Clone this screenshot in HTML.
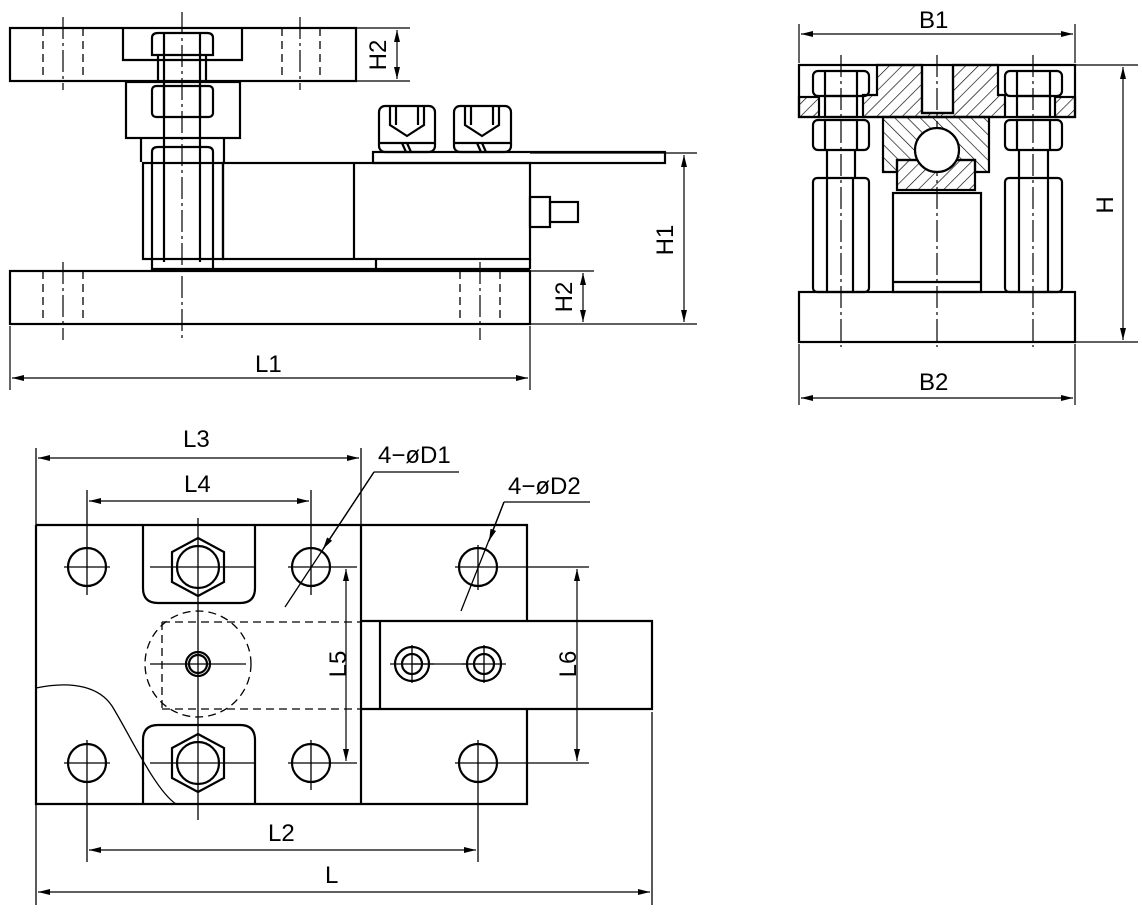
<!DOCTYPE html>
<html><head><meta charset="utf-8"><style>
html,body{margin:0;padding:0;background:#fff}
svg{display:block}
text{font-family:"Liberation Sans",sans-serif;font-size:24px;fill:#000}
</style></head><body>
<svg width="1142" height="914" viewBox="0 0 1142 914" xmlns="http://www.w3.org/2000/svg">
<defs>
<marker id="a" viewBox="0 0 12 6" refX="12" refY="3" markerWidth="12" markerHeight="6" orient="auto-start-reverse" markerUnits="userSpaceOnUse"><path d="M0,0 L12,3 L0,6 z" fill="#000"/></marker>
<pattern id="h" width="9" height="9" patternUnits="userSpaceOnUse" patternTransform="rotate(45)"><line x1="0" y1="0" x2="0" y2="9" stroke="#000" stroke-width="1.3"/></pattern>
<pattern id="h2" width="9" height="9" patternUnits="userSpaceOnUse" patternTransform="rotate(-45)"><line x1="0" y1="0" x2="0" y2="9" stroke="#000" stroke-width="1.3"/></pattern>
</defs>
<g fill="none" stroke="#000" stroke-width="2.2">
<rect x="10" y="28" width="346" height="53"/>
<path d="M123,28 V60 H242 V28"/>
<path d="M152,38 Q152,33 158,33 H207 Q213,33 213,38 V55 H152 z"/>
<path d="M164,33 V55 M200,33 V55"/>
<path d="M158,55 V82 M206,55 V82 M164,55 V262 M200,55 V262"/>
<rect x="126" y="82" width="114" height="56"/>
<rect x="152" y="86" width="61" height="31" rx="4"/>
<path d="M164,86 V117 M200,86 V117"/>
<path d="M141,138 V162 M224,138 V162"/>
<rect x="143" y="163" width="80" height="96"/>
<path d="M152,152 Q152,147 158,147 H207 Q213,147 213,152 V269 H152 z"/>
<rect x="223" y="163" width="307" height="96"/>
<path d="M354,163 V259"/>
<path d="M213,269 H530 M530,259 V269 M376,259 V269"/>
<rect x="373" y="152" width="292" height="11"/>
<rect x="379" y="106" width="56" height="46" rx="6"/>
<path d="M379,143 H435 M390,106 V125 L407,136 L424,125 V106 M396,106 V125 M418,106 V125 M402,143 L406,152 M407,143 L411,152"/>
<rect x="454" y="106" width="57" height="46" rx="6"/>
<path d="M454,143 H511 M465,106 V125 L482,136 L499,125 V106 M471,106 V125 M493,106 V125 M477,143 L481,152 M482,143 L486,152"/>
<rect x="530" y="197" width="20" height="30"/>
<rect x="550" y="202" width="28" height="20"/>
<rect x="10" y="271" width="520" height="53"/>
</g>
<g fill="none" stroke="#000" stroke-width="1.3" stroke-dasharray="8,5">
<path d="M43,28 V81 M83,28 V81 M282,28 V81 M320,28 V81 M43,271 V324 M83,271 V324 M460,271 V324 M500,271 V324"/>
<path d="M162,622 H361 M162,709 H361 M162,622 V709"/>
<circle cx="198" cy="664" r="53"/>
</g>
<g fill="none" stroke="#000" stroke-width="1.2" stroke-dasharray="22,4,3,4">
<path d="M63,17 V90 M300,17 V90 M182,12 V338 M63,262 V340 M480,262 V340"/>
<path d="M841,55 V347 M937,55 V347 M1033,55 V347"/>
</g>
<g fill="none" stroke="#000" stroke-width="1.2">
<path d="M356,28 H410 M356,81 H410 M530,153 H697 M530,324 H697 M530,271 H594"/>
<path d="M10,326 V390 M530,326 V390"/>
</g>
<g stroke="#000" stroke-width="1.2" marker-start="url(#a)" marker-end="url(#a)">
<line x1="397" y1="30" x2="397" y2="79"/>
<line x1="583" y1="273" x2="583" y2="322"/>
<line x1="684" y1="155" x2="684" y2="322"/>
<line x1="12" y1="378" x2="528" y2="378"/>
<line x1="801" y1="34" x2="1073" y2="34"/>
<line x1="801" y1="398" x2="1073" y2="398"/>
<line x1="1123" y1="67" x2="1123" y2="340"/>
<line x1="38" y1="458" x2="359" y2="458"/>
<line x1="89" y1="501" x2="309" y2="501"/>
<line x1="346" y1="569" x2="346" y2="761"/>
<line x1="577" y1="569" x2="577" y2="761"/>
<line x1="89" y1="850" x2="476" y2="850"/>
<line x1="38" y1="892" x2="650" y2="892"/>
</g>
<text x="255" y="372">L1</text>
<text transform="translate(386,55) rotate(-90)" text-anchor="middle">H2</text>
<text transform="translate(572,297) rotate(-90)" text-anchor="middle">H2</text>
<text transform="translate(673,240) rotate(-90)" text-anchor="middle">H1</text>

<g stroke="#000" stroke-width="2.2">
<path d="M877,65 H922 V113 H953 V65 H998 V95 H1005 V117 H863 V95 H877 z" fill="url(#h)"/>
<rect x="799" y="97" width="20" height="20" fill="url(#h)"/>
<rect x="1055" y="97" width="20" height="20" fill="url(#h)"/>
<path d="M883,117 H989 V172 H975 V160 H897 V172 H883 z" fill="url(#h2)"/>
<rect x="897" y="160" width="78" height="30" fill="url(#h)"/>
<circle cx="937" cy="150" r="22" fill="#fff"/>
</g>
<g fill="none" stroke="#000" stroke-width="2.2">
<rect x="799" y="65" width="276" height="52"/>
<path d="M922,65 V113 H953 V65"/>
<rect x="813" y="71" width="56" height="25" rx="5"/>
<path d="M825,71 V96 M857,71 V96"/>
<rect x="825" y="96" width="32" height="21"/>
<rect x="1005" y="71" width="57" height="25" rx="5"/>
<path d="M1017,71 V96 M1050,71 V96"/>
<rect x="1017" y="96" width="33" height="21"/>
<rect x="813" y="120" width="56" height="30" rx="5"/>
<path d="M825,120 V150 M857,120 V150 M827,150 V178 M855,150 V178"/>
<rect x="813" y="178" width="56" height="114" rx="4"/>
<path d="M827,178 V292 M853,178 V292"/>
<rect x="1005" y="120" width="57" height="30" rx="5"/>
<path d="M1017,120 V150 M1050,120 V150 M1019,150 V178 M1048,150 V178"/>
<rect x="1005" y="178" width="57" height="114" rx="4"/>
<path d="M1019,178 V292 M1048,178 V292"/>
<rect x="893" y="193" width="88" height="99"/>
<path d="M893,282 H981"/>
<rect x="799" y="292" width="276" height="50"/>
</g>
<g fill="none" stroke="#000" stroke-width="1.2">
<path d="M799,24 V63 M1075,24 V63 M799,344 V405 M1075,344 V405 M1075,65 H1138 M1075,342 H1138"/>
</g>
<text x="919" y="28">B1</text>
<text x="919" y="390">B2</text>
<text transform="translate(1113,205) rotate(-90)" text-anchor="middle">H</text>

<g fill="none" stroke="#000" stroke-width="2.2">
<path d="M36,525 H527 V621"/>
<path d="M527,709 V804 H36 V525"/>
<path d="M361,525 V804"/>
<path d="M361,621 H652 V709 H361 M380,621 V709"/>
<path d="M143,525 V588 Q143,603 158,603 H240 Q255,603 255,588 V525"/>
<path d="M143,804 V740 Q143,725 158,725 H240 Q255,725 255,740 V804"/>
<path d="M198,538 L224,552 L224,582 L198,596 L172,582 L172,552 z"/>
<circle cx="198" cy="567" r="21"/>
<path d="M198,734 L224,748 L224,778 L198,792 L172,778 L172,748 z"/>
<circle cx="198" cy="763" r="21"/>
<circle cx="87" cy="567" r="19"/><circle cx="311" cy="567" r="19"/><circle cx="478" cy="567" r="19"/>
<circle cx="87" cy="763" r="19"/><circle cx="311" cy="763" r="19"/><circle cx="478" cy="763" r="19"/>
<circle cx="198" cy="664" r="12"/><circle cx="198" cy="664" r="9"/>
<circle cx="412" cy="664" r="17"/><circle cx="412" cy="664" r="10"/>
<circle cx="484" cy="664" r="17"/><circle cx="484" cy="664" r="10"/>
</g>
<g fill="none" stroke="#000" stroke-width="1.3">
<path d="M36,688 C75,680 100,688 112,706 C130,735 155,790 176,804"/>
<path d="M412,664 H484"/>
<path d="M64,567 H110 M288,567 H357 M455,567 H589 M64,763 H110 M288,763 H357 M455,763 H589 M150,567 H255 M150,763 H255 M150,664 H246 M390,664 H434 M462,664 H506"/>
<path d="M87,490 V595 M311,490 V595 M478,545 V590 M87,740 V862 M311,740 V790 M478,740 V862 M198,518 V820 M412,645 V683 M484,645 V683"/>
<path d="M36,448 V905 M361,448 V525 M652,712 V905"/>
<path d="M374,472 H459 M374,472 L285,607"/>
<path d="M504,502 H590 M504,502 L461,611"/>
</g>
<g stroke="#000" stroke-width="1.3" marker-end="url(#a)">
<line x1="374" y1="472" x2="323" y2="549"/>
<line x1="504" y1="502" x2="489" y2="541"/>
</g>
<text x="183" y="447">L3</text>
<text x="184" y="492">L4</text>
<text x="268" y="841">L2</text>
<text x="325" y="883">L</text>
<text transform="translate(346,664) rotate(-90)" text-anchor="middle">L5</text>
<text transform="translate(576,664) rotate(-90)" text-anchor="middle">L6</text>
<text x="378" y="463">4−øD1</text>
<text x="508" y="494">4−øD2</text>
</svg>
</body></html>
